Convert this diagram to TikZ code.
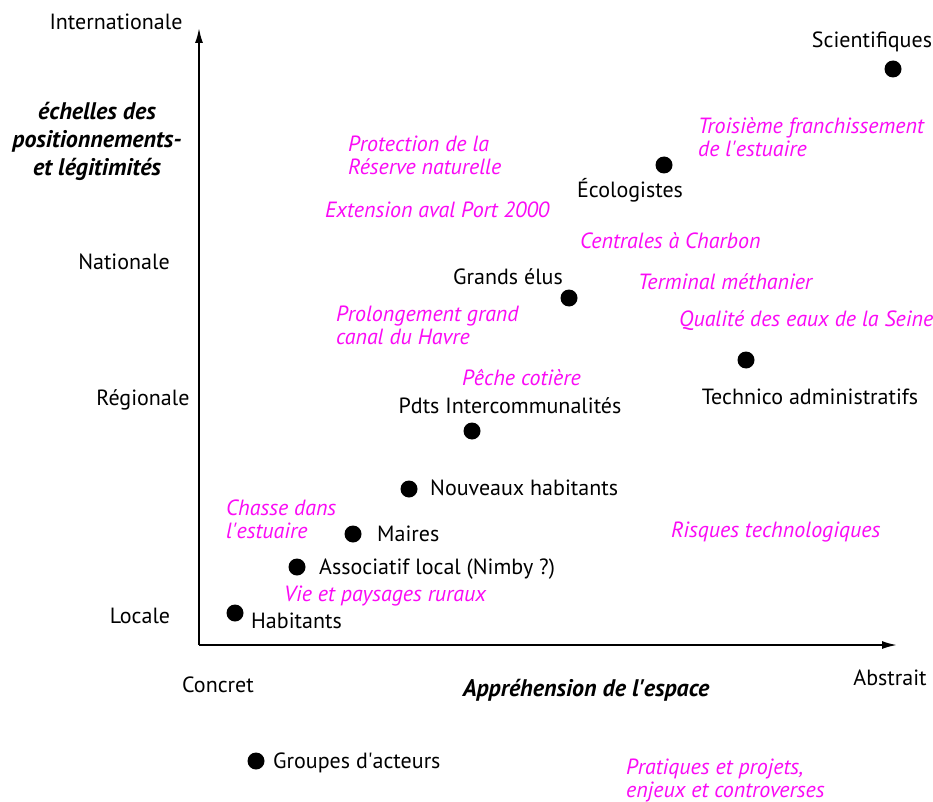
\documentclass[tikz,border=0pt]{standalone}
\usepackage{fontspec}
\setmainfont{PT Sans}
\usetikzlibrary{arrows.meta}
\definecolor{enjeu}{RGB}{250,10,245}
\begin{document}
\begin{tikzpicture}[x=1pt, y=-1pt,
        every node/.style={font=\fontsize{22}{23}\selectfont, inner sep=0pt},
        acteur/.style={circle, fill=black, minimum size=17pt},
        nom/.style={anchor=west},
        enjeu/.style={anchor=west, align=left, text=enjeu, font=\fontsize{22}{23}\selectfont\itshape},
        titre/.style={align=center, font=\fontsize{24}{28}\selectfont\bfseries\itshape},
        axe/.style={line width=1.8pt, -{Latex[length=15pt, width=8pt]}}
    ]
        \useasboundingbox (0,0) rectangle (933,802);

        % Axes
        \coordinate (o) at (199,645);
        \coordinate (ytop) at (199,28);
        \coordinate (xend) at (897,645);
        \draw[axe] (o) -- (ytop);
        \draw[axe] (o) -- (xend);

        % Echelles
        \node (inter) at (116,22) {Internationale};
        \node[titre] (echelle) at (97,141) {échelles des\\positionnements-\\et légitimités};
        \node (nat) at (124,262) {Nationale};
        \node (reg) at (143,400) {Régionale};
        \node (loc) at (140,616) {Locale};
        \node (concret) at (218,685) {Concret};
        \node[titre] (espace) at (586,690) {Appréhension de l\textquotesingle espace};
        \node (abstrait) at (890,678) {Abstrait};

        % Groupes d'acteurs
        \node[acteur] (sci) at (893,69) {};
        \node (scil) at (872,42) {Scientifiques};
        \node[acteur] (eco) at (664,165) {};
        \node (ecol) at (630,190) {Écologistes};
        \node[acteur] (elus) at (569,298) {};
        \node (elusl) at (508,277) {Grands élus};
        \node[acteur] (tech) at (746,360) {};
        \node (techl) at (810,397) {Technico administratifs};
        \node[acteur] (pdts) at (472,431) {};
        \node (pdtsl) at (510,406) {Pdts Intercommunalités};
        \node[acteur] (nouv) at (409,489) {};
        \node[nom] (nouvl) at (430,488) {Nouveaux habitants};
        \node[acteur] (maires) at (353,534) {};
        \node[nom] (mairesl) at (377,534) {Maires};
        \node[acteur] (asso) at (297,567) {};
        \node[nom] (assol) at (319,569) {Associatif local (Nimby ?)};
        \node[acteur] (hab) at (235,613) {};
        \node[nom] (habl) at (251,621) {Habitants};

        % Pratiques et projets
        \node[enjeu] (reserve) at (348,155) {Protection de la\\Réserve naturelle};
        \node[enjeu] (pont) at (698,137) {Troisième franchissement\\de l\textquotesingle estuaire};
        \node[enjeu] (port) at (325,210) {Extension aval Port 2000};
        \node[enjeu] (charbon) at (580,241) {Centrales à Charbon};
        \node[enjeu] (methanier) at (638,282) {Terminal méthanier};
        \node[enjeu] (canal) at (336,325) {Prolongement grand\\canal du Havre};
        \node[enjeu] (seine) at (679,321) {Qualité des eaux de la Seine};
        \node[enjeu] (peche) at (462,378) {Pêche cotière};
        \node[enjeu] (chasse) at (226,519) {Chasse dans\\l\textquotesingle estuaire};
        \node[enjeu] (risques) at (671,532) {Risques technologiques};
        \node[enjeu] (rural) at (284,596) {Vie et paysages ruraux};

        % Legende
        \node[acteur] (leg) at (256,761) {};
        \node[nom] (legl) at (273,763) {Groupes d\textquotesingle acteurs};
        \node[enjeu] (legenjeu) at (626,780) {Pratiques et projets,\\enjeux et controverses};
    \end{tikzpicture}
\end{document}
